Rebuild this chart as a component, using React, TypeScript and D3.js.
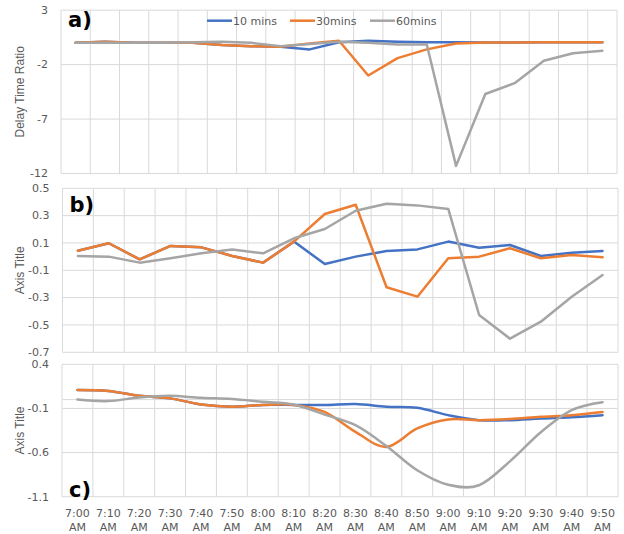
import React from 'react';
import * as d3 from 'd3';

// ---------- data ----------
const times = ["7:00","7:10","7:20","7:30","7:40","7:50","8:00","8:10","8:20","8:30","8:40","8:50","9:00","9:10","9:20","9:30","9:40","9:50"];
const timesA = [...times, "10:00"];
const seriesNames = ["10 mins", "30mins", "60mins"];

const yTicksA = [3, -2, -7, -12];
const yTicksB = [0.5, 0.3, 0.1, -0.1, -0.3, -0.5, -0.7];
const yTicksC = [0.4, -0.1, -0.6, -1.1];

const blueA = [0, 0.1, 0, 0, 0, -0.2, -0.3, -0.35, -0.6, 0.05, 0.2, 0.1, 0.05, 0.05, 0.04, 0.04, 0.05, 0.05, 0.05];
const orangeA = [0, 0.1, 0, 0, 0, -0.2, -0.3, -0.35, -0.05, 0.2, -3.0, -1.4, -0.6, -0.05, 0.03, 0.04, 0.05, 0.05, 0.05];
const grayA = [0, 0, 0, 0, 0.05, 0.1, 0.0, -0.3, -0.1, 0.1, 0.0, -0.15, -0.15, -11.3, -4.7, -3.7, -1.65, -0.95, -0.72];

const blueB = [0.043, 0.098, -0.02, 0.078, 0.068, 0.005, -0.044, 0.11, -0.054, 0.0, 0.041, 0.053, 0.11, 0.065, 0.085, 0.005, 0.029, 0.041];
const orangeB = [0.043, 0.098, -0.02, 0.078, 0.068, 0.005, -0.044, 0.11, 0.312, 0.38, -0.224, -0.293, -0.012, 0.0, 0.061, -0.012, 0.012, -0.005];
const grayB = [0.005, 0.0, -0.044, -0.012, 0.024, 0.053, 0.024, 0.134, 0.202, 0.336, 0.387, 0.375, 0.349, -0.427, -0.6, -0.476, -0.293, -0.134];

const blueC = [0.108, 0.097, 0.043, 0.014, -0.055, -0.08, -0.06, -0.06, -0.062, -0.05, -0.08, -0.093, -0.176, -0.233, -0.233, -0.214, -0.2, -0.176];
const orangeC = [0.108, 0.097, 0.043, 0.014, -0.055, -0.08, -0.06, -0.06, -0.14, -0.366, -0.536, -0.327, -0.225, -0.233, -0.22, -0.195, -0.176, -0.14];
const grayC = [0.0, -0.017, 0.025, 0.043, 0.02, 0.006, -0.025, -0.055, -0.17, -0.29, -0.525, -0.8, -0.964, -0.97, -0.7, -0.37, -0.12, -0.03];

const COLORS = ['#4472C4', '#ED7D31', '#A5A5A5'];
const GRID = '#d9d9d9';
const TEXT = '#595959';
const TICK_FONT = "'DejaVu Sans', sans-serif";
const TITLE_FONT = "'Liberation Sans', Arial, sans-serif";

type PanelProps = {
  cats: string[];
  series: number[][];
  ticks: number[];
  left: number; right: number; top: number; bottom: number;
  smooth?: boolean;
  label: string; labelY: number;
  title: string;
  zeroLine?: boolean;
};

function Panel(p: PanelProps) {
  const x = d3.scaleBand<string>().domain(p.cats).range([p.left, p.right]).paddingInner(0).paddingOuter(0);
  const y = d3.scaleLinear().domain([d3.min(p.ticks)!, d3.max(p.ticks)!]).range([p.bottom, p.top]);
  const bw = x.bandwidth();
  const edges = [...p.cats.map(c => x(c)!), p.right];
  const line = d3.line<number>()
    .x((_, i) => x(p.cats[i])! + bw / 2)
    .y(v => y(v))
    .curve(p.smooth ? d3.curveCatmullRom.alpha(0) : d3.curveLinear);
  const midY = (p.top + p.bottom) / 2;
  return (
    <g>
      {p.ticks.map(t => (
        <line key={'h' + t} x1={p.left} x2={p.right} y1={y(t)} y2={y(t)} stroke={GRID} strokeWidth={1} />
      ))}
      {edges.map((e, i) => (
        <line key={'v' + i} x1={e} x2={e} y1={p.top} y2={p.bottom} stroke={GRID} strokeWidth={1} />
      ))}
      {p.zeroLine && (
        <line x1={p.left} x2={p.right} y1={y(0)} y2={y(0)} stroke={GRID} strokeWidth={1} />
      )}
      {p.ticks.map(t => (
        <text key={'t' + t} x={p.left - 13} y={y(t)} dy="0.35em" textAnchor="end"
          fontFamily={TICK_FONT} fontSize={11} fill={TEXT}>{String(t)}</text>
      ))}
      <text transform={`translate(24,${midY}) rotate(-90)`} textAnchor="middle"
        fontFamily={TITLE_FONT} fontSize={12} fill={TEXT}>{p.title}</text>
      {p.series.map((s, i) => (
        <path key={'s' + i} d={line(s)!} fill="none" stroke={COLORS[i]} strokeWidth={2.5}
          strokeLinejoin="round" strokeLinecap="round" />
      ))}
      <text x={p.left + 7} y={p.labelY} fontFamily="'DejaVu Sans', sans-serif" fontWeight="bold"
        fontSize={21} fill="#000">{p.label}</text>
    </g>
  );
}

export default function App() {
  const xC = d3.scaleBand<string>().domain(times).range([62, 618]);
  const legendX = [207, 290, 370];
  return (
    <svg width={624} height={534} style={{ position: 'absolute', left: 0, top: 0, background: '#fff' }}>
      <rect width={624} height={534} fill="#fff" />
      <Panel cats={timesA} series={[blueA, orangeA, grayA]} ticks={yTicksA}
        left={61} right={617} top={10.2} bottom={173.5} label="a)" labelY={27}
        title="Delay Time Ratio" />
      <Panel cats={times} series={[blueB, orangeB, grayB]} ticks={yTicksB}
        left={62.5} right={618} top={188.3} bottom={352.3} label="b)" labelY={212}
        title="Axis Title" />
      <Panel cats={times} series={[blueC, orangeC, grayC]} ticks={yTicksC}
        left={62} right={618} top={364.3} bottom={496.7} label="c)" labelY={497}
        title="Axis Title" smooth zeroLine />
      {seriesNames.map((n, i) => (
        <g key={n}>
          <line x1={legendX[i]} x2={legendX[i] + 25} y1={20.7} y2={20.7} stroke={COLORS[i]} strokeWidth={2.5} />
          <text x={legendX[i] + 26} y={20.7} dy="0.35em" fontFamily={TICK_FONT} fontSize={11} fill={TEXT}>{n}</text>
        </g>
      ))}
      {times.map(t => (
        <text key={t} x={xC(t)! + xC.bandwidth() / 2} y={517} textAnchor="middle"
          fontFamily={TICK_FONT} fontSize={11} fill={TEXT}>
          <tspan x={xC(t)! + xC.bandwidth() / 2} dy={0}>{t}</tspan>
          <tspan x={xC(t)! + xC.bandwidth() / 2} dy={14}>AM</tspan>
        </text>
      ))}
    </svg>
  );
}
